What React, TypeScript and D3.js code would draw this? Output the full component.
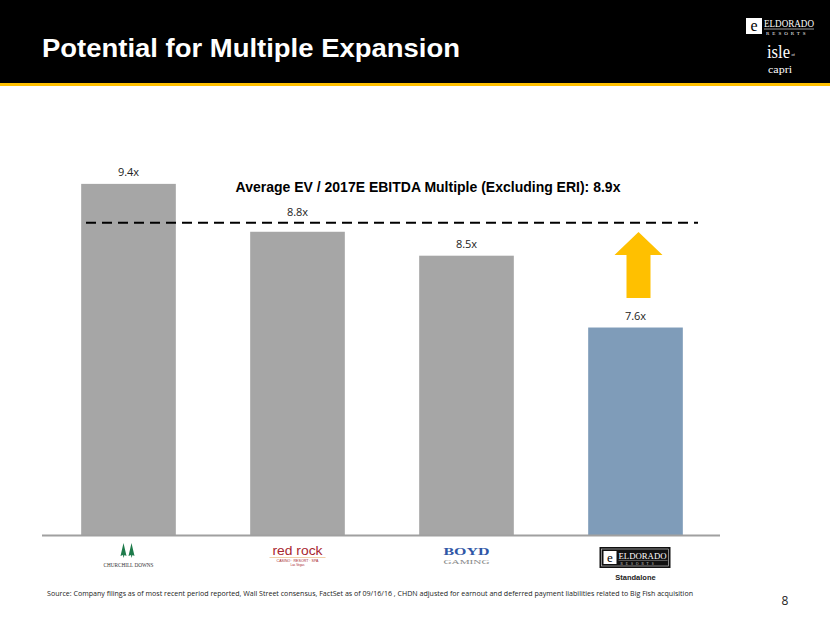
import React from "react";
import * as d3 from "d3";

const categories = ["Churchill Downs", "Red Rock", "Boyd Gaming", "Eldorado Standalone"];
const values = [9.4, 8.8, 8.5, 7.6];
const valueLabels = ["9.4x", "8.8x", "8.5x", "7.6x"];
const averageValue = 8.9;
const averageLabel = "Average EV / 2017E EBITDA Multiple (Excluding ERI): 8.9x";
const title = "Potential for Multiple Expansion";
const sourceText =
  "Source: Company filings as of most recent period reported, Wall Street consensus, FactSet as of 09/16/16 , CHDN adjusted for earnout and deferred payment liabilities related to Big Fish acquisition";

const W = 830;
const H = 623;

export default function App() {
  const x = d3.scaleBand<string>().domain(categories).range([44, 720]).paddingInner(0.44).paddingOuter(0.22);
  const y = d3.scaleLinear().domain([5, 10]).range([535, 136]);
  const bw = x.bandwidth();
  const sans = "'Liberation Sans', Arial, sans-serif";
  const cal = "'Open Sans', 'Noto Sans', sans-serif";
  const serif = "'Liberation Serif', 'DejaVu Serif', serif";
  const cx = (i: number) => (x(categories[i]) as number) + bw / 2;
  const yAvg = y(averageValue) - 1;
  const aX = cx(3);
  // labels sit above bars; the one that would clash with the average line is lifted above it
  const labelY = (v: number) => {
    const base = y(v) - 8;
    return base > yAvg - 4 && base < yAvg + 12 ? yAvg - 7 : base;
  };

  return (
    <div style={{ position: "fixed", left: 0, top: 0 }}>
      <svg width={W} height={H} style={{ display: "block", background: "#fff" }}>
        {/* header */}
        <rect x={0} y={0} width={W} height={83} fill="#000" />
        <rect x={0} y={83} width={W} height={3} fill="#FFC000" />
        <text x={42} y={57} fill="#fff" fontFamily={sans} fontWeight="bold" fontSize={26} textLength={418} lengthAdjust="spacingAndGlyphs">
          {title}
        </text>
        {/* header logos */}
        <g>
          <rect x={746} y={18} width={16} height={16} fill="#fff" />
          <text x={754} y={31} textAnchor="middle" fontFamily={serif} fontSize={16} fill="#000">e</text>
          <text x={764} y={27} fill="#fff" fontFamily={serif} fontSize={10} textLength={50} lengthAdjust="spacingAndGlyphs">ELDORADO</text>
          <line x1={764} x2={814} y1={29} y2={29} stroke="#fff" strokeWidth={0.6} />
          <text x={766} y={34.5} fill="#fff" fontFamily={serif} fontSize={5} letterSpacing={3}>RESORTS</text>
          <text x={767} y={58} fill="#fff" fontFamily={serif} fontSize={18} textLength={23} lengthAdjust="spacingAndGlyphs">isle</text>
          <text x={768} y={73} fill="#fff" fontFamily={serif} fontSize={11} textLength={24} lengthAdjust="spacingAndGlyphs">capri</text>
          <text x={791.5} y={56} fill="#fff" fontFamily={serif} fontSize={4}>of</text>
        </g>

        {/* bars */}
        {values.map((v, i) => (
          <rect
            key={categories[i]}
            x={x(categories[i])}
            y={y(v)}
            width={bw}
            height={y(5) - y(v)}
            fill={i === 3 ? "#7F9CB9" : "#A6A6A6"}
          />
        ))}
        {values.map((v, i) => (
          <text key={"l" + i} x={cx(i)} y={labelY(v)} textAnchor="middle" fontFamily={cal} fontSize={11} fill="#222">
            {valueLabels[i]}
          </text>
        ))}

        {/* axis line */}
        <line x1={42} x2={720} y1={535.5} y2={535.5} stroke="#A0A0A0" strokeWidth={2} />

        {/* average */}
        <line x1={86} x2={698} y1={yAvg} y2={yAvg} stroke="#000" strokeWidth={2} strokeDasharray="10,6" />
        <text x={428} y={192} textAnchor="middle" fontFamily={sans} fontWeight="bold" fontSize={14}>
          {averageLabel}
        </text>

        {/* arrow */}
        <path
          d={`M${aX + 3},232 L${aX + 27},255 L${aX + 15},255 L${aX + 15},298 L${aX - 9},298 L${aX - 9},255 L${aX - 21},255 Z`}
          fill="#FFC000"
        />

        {/* category logos */}
        <g>
          <path d={`M${cx(0) - 5},543 l-3,13 l2.5,-1 l0.5,3 l1,-3 l2,1 z`} fill="#1E7B4B" />
          <path d={`M${cx(0) + 3},543 l-3,13 l2.5,-1 l0.5,3 l1,-3 l2,1 z`} fill="#1E7B4B" />
          <text x={cx(0)} y={567} textAnchor="middle" fontFamily={serif} fontSize={6.5} fill="#333" textLength={50} lengthAdjust="spacingAndGlyphs">
            CHURCHILL DOWNS
          </text>
        </g>
        <g>
          <text x={cx(1)} y={555} textAnchor="middle" fontFamily={sans} fontSize={13} fill="#A8262E" textLength={50} lengthAdjust="spacingAndGlyphs">red rock</text>
          <line x1={cx(1) - 28} x2={cx(1) + 28} y1={557.5} y2={557.5} stroke="#E8B070" strokeWidth={0.6} />
          <text x={cx(1)} y={562} textAnchor="middle" fontFamily={sans} fontSize={3.6} fill="#A8262E">CASINO · RESORT · SPA</text>
          <text x={cx(1)} y={565.5} textAnchor="middle" fontFamily={sans} fontSize={3} fill="#A8262E">Las Vegas</text>
        </g>
        <g>
          <text x={cx(2)} y={555} textAnchor="middle" fontFamily={serif} fontWeight="bold" fontSize={11} fill="#2F56A6" textLength={46} lengthAdjust="spacingAndGlyphs">BOYD</text>
          <text x={cx(2)} y={564} textAnchor="middle" fontFamily={serif} fontSize={7} fill="#888" textLength={46} lengthAdjust="spacingAndGlyphs">GAMING</text>
        </g>
        <g>
          <rect x={cx(3) - 36} y={547} width={71} height={21} fill="#111" />
          <rect x={cx(3) - 34} y={549} width={67} height={17} fill="none" stroke="#ddd" strokeWidth={0.6} />
          <rect x={cx(3) - 32} y={551} width={13} height={13} fill="#fff" />
          <text x={cx(3) - 25.5} y={562} textAnchor="middle" fontFamily={serif} fontSize={13} fill="#000">e</text>
          <text x={cx(3) - 17} y={559} fill="#fff" fontFamily={serif} fontSize={8} textLength={48} lengthAdjust="spacingAndGlyphs">ELDORADO</text>
          <line x1={cx(3) - 17} x2={cx(3) + 32} y1={560.5} y2={560.5} stroke="#ccc" strokeWidth={0.4} />
          <text x={cx(3) - 15} y={565} fill="#ccc" fontFamily={serif} fontSize={3.5} letterSpacing={3}>RESORTS</text>
          <text x={cx(3)} y={580} textAnchor="middle" fontFamily={sans} fontWeight="bold" fontSize={7.5} fill="#222">Standalone</text>
        </g>

        {/* footer */}
        <text x={47} y={596} fontFamily={cal} fontSize={7} fill="#222" textLength={646} lengthAdjust="spacingAndGlyphs">
          {sourceText}
        </text>
        <text x={785} y={605} textAnchor="middle" fontFamily={cal} fontSize={12} fill="#222">8</text>
      </svg>
    </div>
  );
}
